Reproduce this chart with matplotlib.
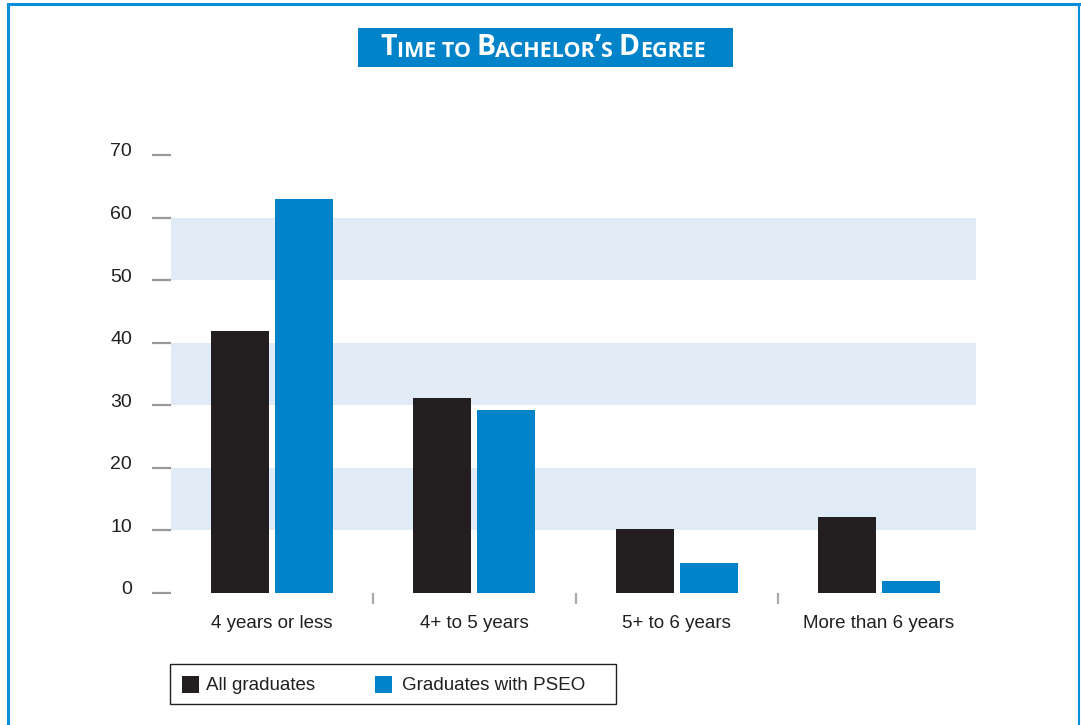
import numpy as np
import matplotlib.pyplot as plt
import matplotlib.transforms as mtransforms
from matplotlib.patches import Rectangle
from matplotlib.lines import Line2D
from matplotlib.text import Annotation

categories = ["4 years or less", "4+ to 5 years", "5+ to 6 years", "More than 6 years"]
all_grads = [41.9, 31.1, 10.3, 12.2]
pseo_grads = [63.0, 29.2, 4.8, 1.9]
yticks = [0, 10, 20, 30, 40, 50, 60, 70]
bands = [(10, 20), (30, 40), (50, 60)]

BLACK = '#231f20'
BLUE = '#0083c9'
BAND = '#e0ebf6'
FRAME = '#0a8fd6'

plt.rcParams['font.family'] = ['Liberation Sans', 'DejaVu Sans']

fig = plt.figure(figsize=(10.81, 7.25), dpi=100)
ax = fig.add_axes([171 / 1081, 132 / 725, 805 / 1081, 438 / 725])

x = np.arange(len(categories))
w = 0.287
gap = 0.015
for lo, hi in bands:
    ax.axhspan(lo, hi, color=BAND, lw=0, zorder=0)
ax.bar(x - gap - w / 2, all_grads, w, color=BLACK, zorder=2)
ax.bar(x + gap + w / 2, pseo_grads, w, color=BLUE, zorder=2)

ax.set_xlim(-0.5, 3.48)
ax.set_ylim(0, 70)
for s in ax.spines.values():
    s.set_visible(False)

ax.set_yticks(yticks)
ax.tick_params(axis='y', direction='out', length=14, width=1.6, color='#999999',
               pad=14, labelsize=14, labelcolor=BLACK)
# labels sit a bit above their dashes in the original
up = mtransforms.ScaledTranslation(0, 5 / 100, fig.dpi_scale_trans)
for t in ax.get_yticklabels():
    t.set_transform(t.get_transform() + up)

ax.set_xticks(x)
ax.set_xticklabels(categories)
ax.tick_params(axis='x', length=0, pad=16, labelsize=13.5, labelcolor=BLACK)
# separators between groups
ax.set_xticks(x[:-1] + 0.5, minor=True)
ax.tick_params(axis='x', which='minor', direction='out', length=8, width=1.6,
               color='#aaaaaa', pad=0)
ax.xaxis.set_minor_formatter(plt.NullFormatter())

# frame around the figure
fig.add_artist(Line2D([8 / 1081, 8 / 1081], [0, 1 - 4 / 725], transform=fig.transFigure, color=FRAME, lw=2.2))
fig.add_artist(Line2D([8 / 1081, 1079 / 1081], [1 - 4 / 725, 1 - 4 / 725], transform=fig.transFigure, color=FRAME, lw=2.2))
fig.add_artist(Line2D([1079 / 1081, 1079 / 1081], [0, 1 - 4 / 725], transform=fig.transFigure, color=FRAME, lw=1.5))

# title box with small caps
fig.add_artist(Rectangle((358 / 1081, 1 - 67 / 725), 375 / 1081, 39 / 725,
                         transform=fig.transFigure, color=BLUE, lw=0))
pieces = [("T", 20.5), ("IME TO ", 15.5), ("B", 20.5), ("ACHELOR", 15.5), ("\u2019", 20.5),
          ("S ", 15.5), ("D", 20.5), ("EGREE", 15.5)]
tfont = ['Open Sans', 'DejaVu Sans']
prev = fig.text(380 / 1081, 1 - 55 / 725, pieces[0][0], fontsize=pieces[0][1],
                color='white', fontweight='bold', family=tfont, va='baseline', zorder=5)
for txt, fs in pieces[1:]:
    prev = fig.add_artist(Annotation(txt, xy=(1, 0), xycoords=prev, fontsize=fs, color='white',
                                     fontweight='bold', family=tfont, va='bottom', ha='left',
                                     zorder=5))

# legend box
fig.add_artist(Rectangle((170 / 1081, 1 - 704 / 725), 446 / 1081, 40 / 725,
                         transform=fig.transFigure, fill=False, ec=BLACK, lw=1))
fig.add_artist(Rectangle((182 / 1081, 1 - 693 / 725), 17 / 1081, 17 / 725,
                         transform=fig.transFigure, color=BLACK, lw=0))
fig.text(206 / 1081, 1 - 685 / 725, "All graduates", fontsize=13.5, color=BLACK, va='center')
fig.add_artist(Rectangle((375 / 1081, 1 - 693 / 725), 17 / 1081, 17 / 725,
                         transform=fig.transFigure, color=BLUE, lw=0))
fig.text(402 / 1081, 1 - 685 / 725, "Graduates with PSEO", fontsize=13.5, color=BLACK, va='center')

fig.savefig('out.png', dpi=100)
